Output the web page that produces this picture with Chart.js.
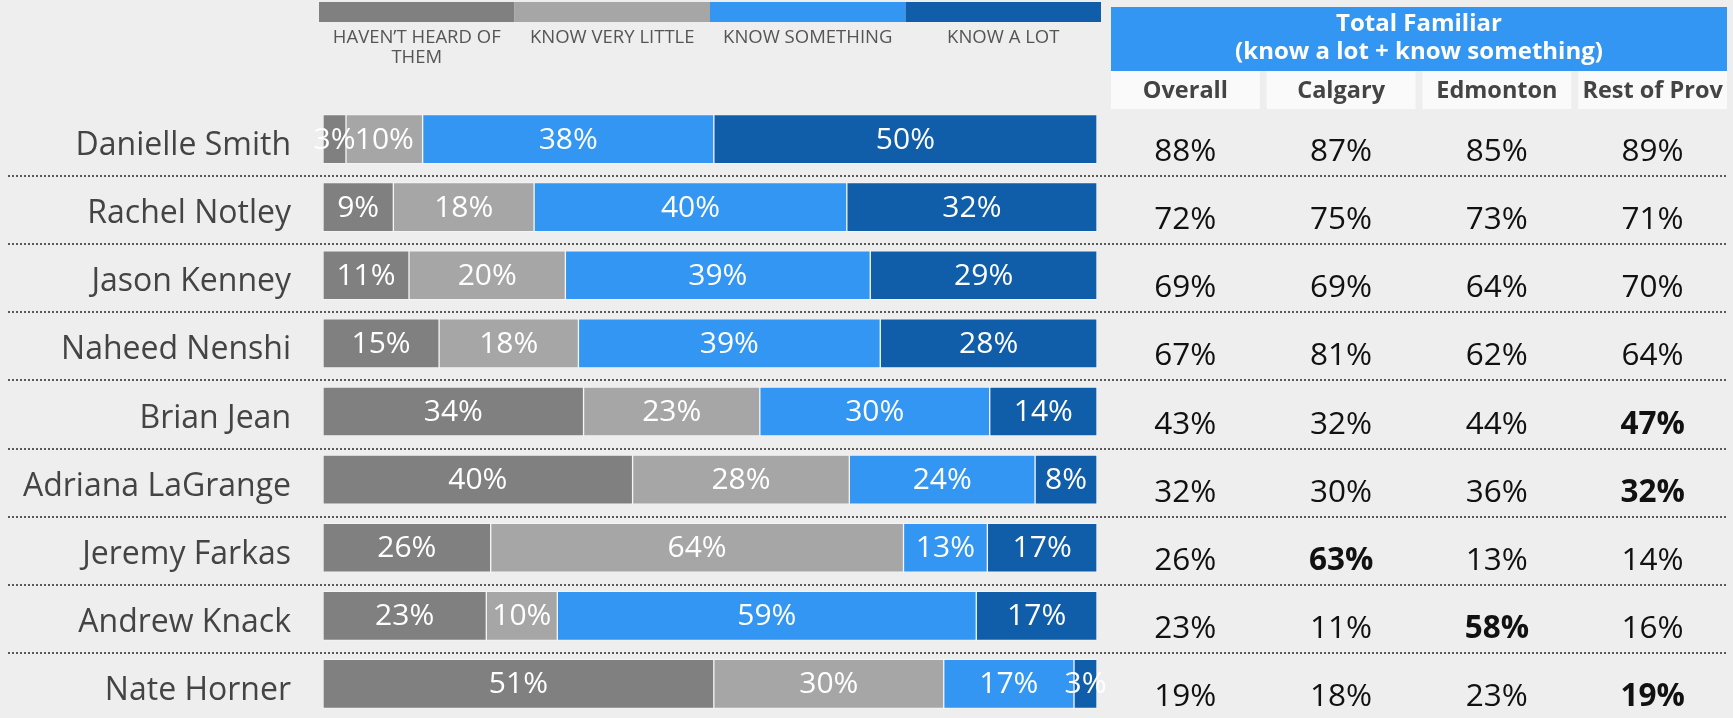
<!DOCTYPE html>
<html>
<head>
  <title>Total Familiar</title>
  <script src="https://cdn.jsdelivr.net/npm/chart.js@4.4.1/dist/chart.umd.min.js"></script>
  <style>
    html, body { margin: 0; padding: 0; background: #eeeeee; }
  </style>
</head>
<body>
  <canvas id="familiarChart" width="1733" height="718"></canvas>
  <script>
    // politicians, top to bottom
    var names = ['Danielle Smith', 'Rachel Notley', 'Jason Kenney', 'Naheed Nenshi', 'Brian Jean',
                 'Adriana LaGrange', 'Jeremy Farkas', 'Andrew Knack', 'Nate Horner'];

    // stacked bar values (%), as printed on the bars
    var haventHeard = [3, 9, 11, 15, 34, 40, 26, 23, 51];
    var veryLittle  = [10, 18, 20, 18, 23, 28, 64, 10, 30];
    var something   = [38, 40, 39, 39, 30, 24, 13, 59, 17];
    var aLot        = [50, 32, 29, 28, 14, 8, 17, 17, 3];
    var seriesLabels = ['HAVEN\u2019T HEARD OF THEM', 'KNOW VERY LITTLE', 'KNOW SOMETHING', 'KNOW A LOT'];
    var seriesColors = ['#808080', '#a6a6a6', '#3296f2', '#105da9'];

    // right hand table: total familiar
    var tableTitle = ['Total Familiar', '(know a lot + know something)'];
    var tableColumns = ['Overall', 'Calgary', 'Edmonton', 'Rest of Prov'];
    var overall    = [88, 72, 69, 67, 43, 32, 26, 23, 19];
    var calgary    = [87, 75, 69, 81, 32, 30, 63, 11, 18];
    var edmonton   = [85, 73, 64, 62, 44, 36, 13, 58, 23];
    var restOfProv = [89, 71, 70, 64, 47, 32, 14, 16, 19];
    var boldCells  = [[4, 3], [5, 3], [6, 1], [7, 2], [8, 3]]; // [row, column]

    var rawSeries = [haventHeard, veryLittle, something, aLot];
    var tableData = [overall, calgary, edmonton, restOfProv];

    // bars fill the full width (percent stacking), labels keep the raw numbers
    var rowTotals = names.map(function (n, i) {
      return rawSeries.reduce(function (s, arr) { return s + arr[i]; }, 0);
    });
    var datasets = rawSeries.map(function (arr, d) {
      return {
        label: seriesLabels[d],
        data: arr.map(function (v, i) { return v / rowTotals[i] * 100; }),
        raw: arr,
        backgroundColor: seriesColors[d],
        borderColor: 'rgba(255,255,255,0.35)',
        borderWidth: 1,
        borderSkipped: false,
        barThickness: 49
      };
    });

    function wrapText(ctx, text, maxWidth) {
      var words = text.split(' ');
      var lines = [];
      var line = '';
      for (var w of words) {
        var test = line ? line + ' ' + w : w;
        if (ctx.measureText(test).width > maxWidth && line) {
          lines.push(line);
          line = w;
        } else {
          line = test;
        }
      }
      lines.push(line);
      return lines;
    }

    var extras = {
      id: 'extras',
      beforeDraw: function (chart) {
        var ctx = chart.ctx;
        var area = chart.chartArea;
        var yScale = chart.scales.y;
        ctx.save();
        ctx.fillStyle = '#eeeeee';
        ctx.fillRect(0, 0, chart.width, chart.height);

        // dotted row separators
        ctx.strokeStyle = '#5a5a5a';
        ctx.lineWidth = 2;
        ctx.setLineDash([2, 2]);
        for (var k = 0; k < names.length - 1; k++) {
          var y = Math.round((yScale.getPixelForValue(k) + yScale.getPixelForValue(k + 1)) / 2 + 3);
          ctx.beginPath();
          ctx.moveTo(8, y);
          ctx.lineTo(1727, y);
          ctx.stroke();
        }
        ctx.setLineDash([]);

        // legend: one continuous colour strip with labels underneath
        var lLeft = area.left - 4, lRight = area.right + 4;
        var segW = (lRight - lLeft) / seriesLabels.length;
        ctx.font = '18.5px "Open Sans"';
        ctx.textAlign = 'center';
        ctx.textBaseline = 'alphabetic';
        seriesLabels.forEach(function (lab, d) {
          ctx.fillStyle = seriesColors[d];
          ctx.fillRect(lLeft + d * segW, 2, segW, 20);
          ctx.fillStyle = '#555555';
          var lines = wrapText(ctx, lab, segW - 14);
          lines.forEach(function (ln, j) {
            ctx.fillText(ln, lLeft + (d + 0.5) * segW, 43 + j * 20);
          });
        });

        // table header
        var tLeft = 1111, tRight = 1727, gap = 7;
        var colW = (tRight - tLeft - gap * 3) / 4;
        ctx.fillStyle = '#3296f2';
        ctx.fillRect(tLeft, 7, tRight - tLeft, 64);
        ctx.fillStyle = '#ffffff';
        ctx.font = 'bold 24px "Open Sans"';
        ctx.fillText(tableTitle[0], (tLeft + tRight) / 2, 31);
        ctx.fillText(tableTitle[1], (tLeft + tRight) / 2, 59);
        ctx.font = 'bold 23.5px "Open Sans"';
        tableColumns.forEach(function (c, j) {
          var x0 = tLeft + j * (colW + gap);
          ctx.fillStyle = '#fafafa';
          ctx.fillRect(x0, 71, colW, 38);
          ctx.fillStyle = '#444444';
          ctx.fillText(c, x0 + colW / 2, 98);
        });
        ctx.restore();
      },
      afterDatasetsDraw: function (chart) {
        var ctx = chart.ctx;
        var yScale = chart.scales.y;
        ctx.save();
        ctx.textAlign = 'center';

        // value labels on the bars
        ctx.font = '30px "Open Sans"';
        ctx.fillStyle = '#ffffff';
        ctx.textBaseline = 'middle';
        chart.data.datasets.forEach(function (ds, d) {
          chart.getDatasetMeta(d).data.forEach(function (bar, i) {
            var c = bar.getCenterPoint();
            ctx.fillText(ds.raw[i] + '%', c.x, c.y + 1);
          });
        });

        // table values
        var tLeft = 1111, tRight = 1727, gap = 7;
        var colW = (tRight - tLeft - gap * 3) / 4;
        ctx.textBaseline = 'alphabetic';
        ctx.fillStyle = '#111111';
        tableData.forEach(function (col, j) {
          var cx = tLeft + j * (colW + gap) + colW / 2;
          col.forEach(function (v, i) {
            var bold = boldCells.some(function (b) { return b[0] === i && b[1] === j; });
            ctx.font = (bold ? 'bold ' : '') + '31.5px "Open Sans"';
            ctx.fillText(v + '%', cx, yScale.getPixelForValue(i) + 22);
          });
        });
        ctx.restore();
      }
    };

    var ctx = document.getElementById('familiarChart').getContext('2d');
    new Chart(ctx, {
      type: 'bar',
      data: { labels: names, datasets: datasets },
      options: {
        indexAxis: 'y',
        responsive: false,
        animation: false,
        devicePixelRatio: 1,
        layout: { padding: { top: 105, right: 636, bottom: 0, left: 0 } },
        plugins: {
          legend: { display: false },
          tooltip: { enabled: false }
        },
        scales: {
          x: { stacked: true, min: 0, max: 100, display: false },
          y: {
            stacked: true,
            grid: { display: false, drawTicks: false },
            border: { display: false },
            ticks: {
              color: '#444444',
              padding: 32,
              labelOffset: 7,
              font: { family: 'Open Sans', size: 32 }
            },
            afterFit: function (scale) {
              scale.width = 323;
              scale.paddingTop = 0;
              scale.paddingBottom = 0;
            }
          }
        }
      },
      plugins: [extras]
    });
  </script>
</body>
</html>
